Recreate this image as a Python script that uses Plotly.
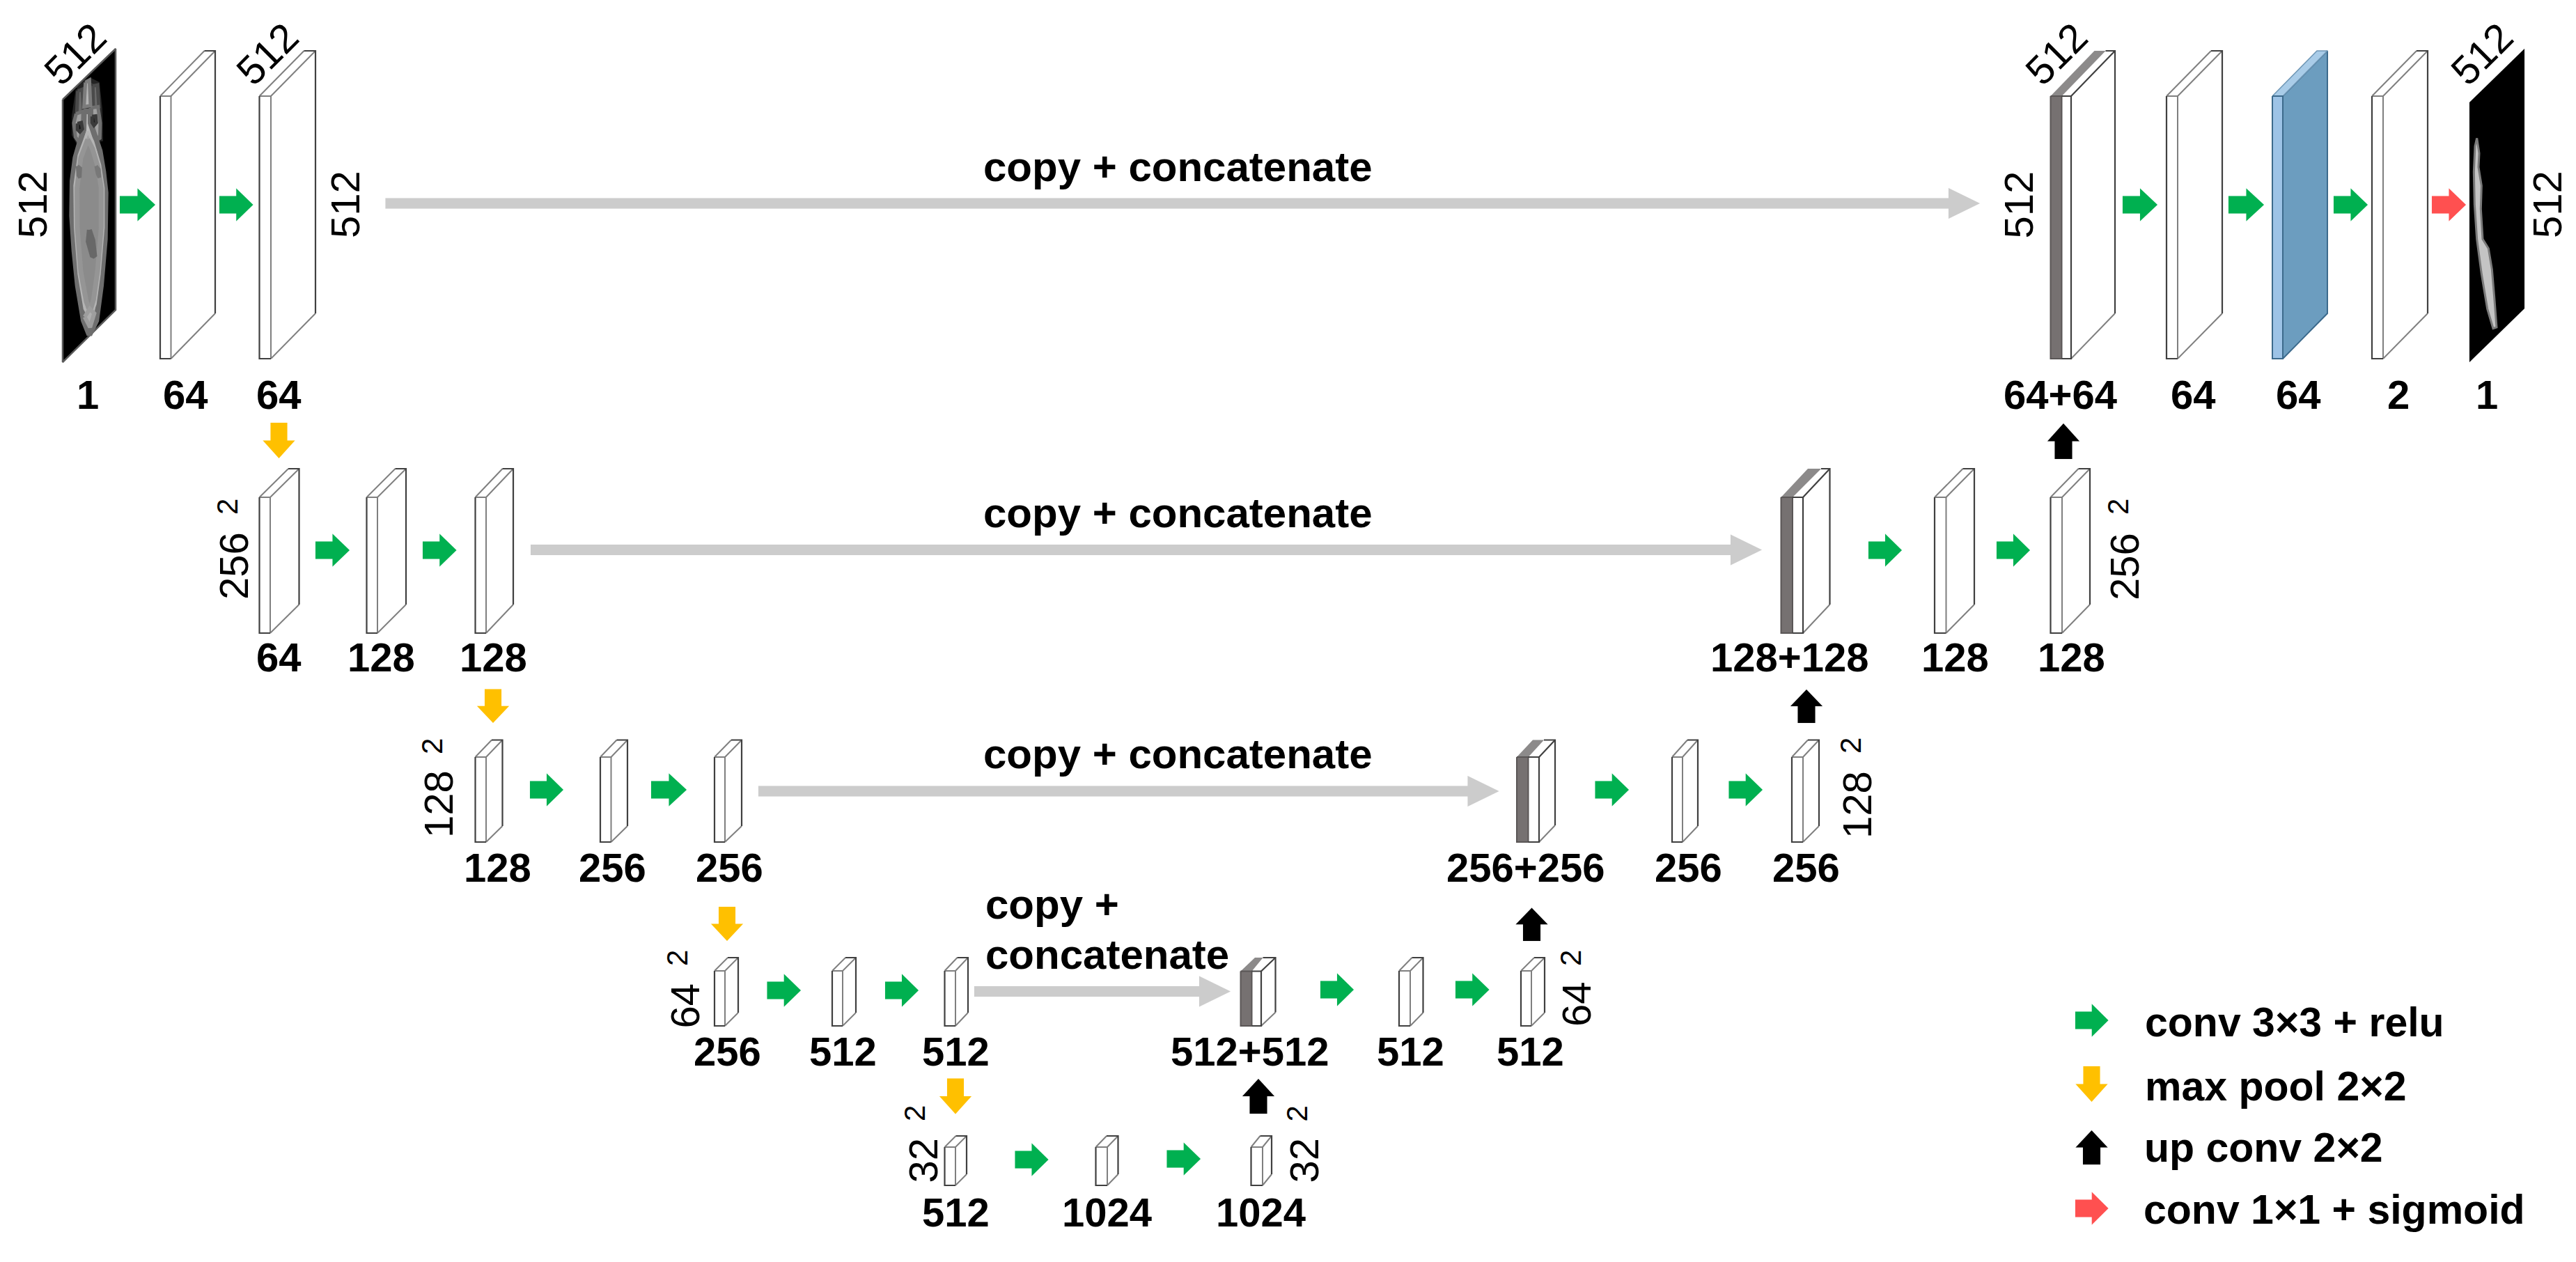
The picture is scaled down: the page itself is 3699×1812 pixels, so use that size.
import plotly.graph_objects as go

# ---------- chart content ----------
channel_labels = ["1", "64", "64", "64", "128", "128", "128", "256", "256", "256", "512", "512",
                  "512", "1024", "1024", "512+512", "512", "512", "256+256", "256", "256",
                  "128+128", "128", "128", "64+64", "64", "64", "2", "1"]
size_labels = ["512", "512", "256", "128", "64", "32", "32", "64", "128", "256", "512", "512"]
corner_labels = ["512", "512", "512", "512"]
skip_label = "copy + concatenate"
skip_label_wrapped = ["copy +", "concatenate"]
legend_labels = ["conv 3×3 + relu", "max pool 2×2", "up conv 2×2", "conv 1×1 + sigmoid"]
power_label = "2"

# ---------- layout of the diagram (canvas units) ----------
W, H = 3699, 1812
FONT = "Liberation Sans"
GREEN, ORANGE, RED, BLACK, ARROW_GREY = "#00B050", "#FFC000", "#FF5050", "#000000", "#CCCCCC"
CONCAT_GREY, CONCAT_TOP = "#767171", "#8C8A8A"
BLUE_FRONT, BLUE_SIDE, BLUE_TOP = "#9DC3E6", "#6C9DBF", "#A9CCE8"

channel_pos = [(126, 566), (266.5, 566), (400.5, 566), (400, 943), (547.5, 943), (708, 943),
               (714, 1245), (879, 1245), (1047.5, 1245), (1044, 1509), (1210, 1509), (1372, 1509),
               (1372, 1740), (1589, 1740), (1810, 1740), (1794.5, 1509), (2025, 1509), (2197, 1509),
               (2190, 1245), (2424.5, 1245), (2593, 1245), (2569, 943), (2807, 943), (2974, 943),
               (2958, 566), (3149, 566), (3300, 566), (3444, 566), (3571, 566)]
size_pos = [(46, 294), (495, 294), (335, 813), (629, 1155), (982.5, 1444), (1324.5, 1666),
            (1871.5, 1666), (2263, 1442), (2666, 1156), (3050, 814), (2897.5, 294), (3657, 294)]
power_pos = [(326, 728), (620, 1072), (972, 1376), (1313, 1599),
             (1862, 1599.5), (2255, 1376), (2657, 1071), (3041, 728)]
corner_pos = [(107, 77), (383, 77), (2952, 77), (3563, 77)]
skip_pos = [(1691, 239), (1691, 736), (1691, 1082)]
skip_wrapped_pos = [(1413, 1298), (1413, 1370)]
legend_pos = [(3078, 1468), (3078, 1560), (3077, 1648), (3076, 1737)]

# front-left, front-mid, back-right, top, bottom, back-top, back-bottom
plain_blocks = [
    (230, 245.5, 309, 138, 515, 73, 450), (372.5, 389, 453, 138, 515, 73, 450),
    (372.5, 388, 429.5, 714, 909, 673, 868), (526.5, 542, 583, 714, 909, 673, 868),
    (682.5, 698, 737, 714, 909, 673, 868),
    (682.5, 698, 721.5, 1087, 1209, 1062.5, 1186), (862, 877.5, 901, 1087, 1209, 1062.5, 1186),
    (1026, 1041, 1065, 1087, 1209, 1062.5, 1186),
    (1026, 1041, 1060, 1394, 1473, 1375, 1454), (1195, 1210, 1229, 1394, 1473, 1375, 1454),
    (1356.5, 1372, 1390, 1394, 1473, 1375, 1454),
    (1356.5, 1372, 1388, 1647, 1702, 1631, 1686), (1573.5, 1590, 1605.5, 1647, 1702, 1631, 1686),
    (1796.5, 1813, 1826, 1647, 1702, 1631, 1686),
    (2009, 2025, 2043.5, 1394, 1473, 1375, 1454), (2184, 2199, 2218, 1394, 1473, 1375, 1454),
    (2401, 2416, 2438, 1087, 1209, 1062.5, 1186), (2573, 2589, 2612, 1087, 1209, 1062.5, 1186),
    (2778, 2794.5, 2835, 714, 909, 673, 868), (2944.5, 2961, 3001, 714, 909, 673, 868),
    (3111, 3127, 3191, 138, 515, 73, 450), (3406, 3422, 3486, 138, 515, 73, 450),
]
blue_block = (3263, 3278, 3342, 138, 515, 73, 450)
# front-left, grey/white split, front-right, back-right, grey strip back end, top, bottom, back-top, back-bottom
concat_blocks = [
    (2944.5, 2960.5, 2974, 3037, 3023.5, 138, 515, 73, 450),
    (2557.5, 2574, 2589, 2627.5, 2615, 714, 909, 673, 868),
    (2178, 2194.5, 2210, 2233, 2217, 1087, 1209, 1062.5, 1185),
    (1781.5, 1797.5, 1811, 1831.5, 1813.5, 1394.5, 1473, 1375, 1453.5),
]
right_arrows_green = [
    (172, 223, 294), (315, 363.5, 294), (3048, 3098, 294), (3200, 3251, 294), (3351, 3400, 294),
    (453, 502, 790), (607, 655.5, 790), (2683, 2731, 790), (2867, 2915, 790),
    (761, 809, 1134), (935, 986, 1134), (2290.5, 2339, 1134), (2482.5, 2531, 1134),
    (1101.5, 1150, 1422), (1271, 1319, 1422), (1896, 1944, 1421), (2090, 2138.5, 1421),
    (1457.5, 1505.5, 1665), (1675.5, 1724, 1664), (2980, 3027.5, 1465),
]
right_arrows_red = [(3492, 3541, 294), (2980, 3027.5, 1735)]
down_arrows = [(400.5, 607, 658), (708, 989.5, 1038), (1044, 1302, 1351), (1372, 1548.5, 1599.5),
               (3003.5, 1531, 1582)]
up_arrows = [(2963, 608, 659), (2594, 990, 1038), (2199.5, 1303.5, 1351), (1807, 1549, 1599),
             (3003.5, 1623, 1672)]
grey_arrows = [(553.5, 2843, 292), (762, 2530, 789.5), (1089, 2152.5, 1136), (1399, 1767, 1423.5)]

input_slice = [(90, 143), (166, 70), (166, 445), (90, 520)]
output_slice = [(3546, 147), (3625, 70), (3625, 443), (3546, 520)]


def ct(points):
    """Hand-traced outline, from 3x crop coordinates of the input slice."""
    return [(80 + x / 3, 60 + y / 3) for x, y in points]


def mask(points):
    return [(3535 + x / 3, 60 + y / 3) for x, y in points]


body_rim = ct([(122, 300), (150, 300), (150, 350), (165, 400), (190, 470), (205, 560), (215, 650),
               (212, 850), (195, 1050), (175, 1200), (145, 1262), (120, 1200), (95, 1050), (80, 900),
               (70, 750), (72, 600), (85, 500), (105, 430), (120, 380)])
body_core = ct([(138, 385), (160, 430), (190, 530), (205, 630), (205, 800), (188, 1000), (170, 1130),
                (148, 1190), (125, 1150), (100, 1000), (84, 800), (82, 620), (100, 490), (118, 440)])
ct_layers = [
    # (fill, soft-edge colour, soft-edge width, outline)
    ("#3A3A3A", "#242424", 6, ct([(95, 205), (130, 170), (150, 165), (180, 180), (192, 290), (195, 420),
                                  (100, 440), (78, 400), (78, 320)])),
    ("#6A6A6A", "#4A4A4A", 5, ct([(95, 212), (114, 205), (120, 290), (112, 320), (90, 320)])),
    ("#6A6A6A", "#4A4A4A", 5, ct([(160, 190), (180, 186), (186, 280), (162, 285)])),
    ("#A0A0A0", "#707070", 5, ct([(88, 310), (118, 300), (128, 380), (105, 440), (85, 410), (78, 350)])),
    ("#A0A0A0", "#707070", 5, ct([(150, 285), (182, 280), (192, 350), (190, 420), (165, 400), (150, 350)])),
    ("#B4B4B4", "#7C7C7C", 5, ct([(128, 175), (145, 165), (150, 275), (122, 280)])),
    ("#BDBDBD", "#6E6E6E", 8, body_rim),
    ("#A2A2A2", "#B4B4B4", 4, body_core),
    ("#8B8B8B", "#959595", 7, ct([(138, 420), (158, 460), (182, 540), (196, 630), (196, 800), (180, 990), (163, 1110),
                                  (148, 1160), (132, 1120), (108, 990), (93, 800), (92, 630), (108, 500), (122, 455)])),
    ("#B0B0B0", "#9E9E9E", 6, ct([(125, 1185), (147, 1150), (166, 1170), (148, 1230)])),
    ("#5C5C5C", "#727272", 5, ct([(94, 535), (106, 545), (104, 585), (97, 575)])),
    ("#666666", "#787878", 5, ct([(174, 535), (186, 550), (188, 585), (180, 568)])),
    ("#454545", "#686868", 7, ct([(145, 810), (160, 855), (168, 925), (157, 920), (140, 860)])),
    ("#0A0A0A", "#3A3A3A", 5, ct([(94, 352), (110, 348), (115, 375), (104, 388), (94, 378)])),
    ("#0A0A0A", "#3A3A3A", 5, ct([(157, 322), (172, 320), (175, 348), (165, 360), (157, 348)])),
]
mask_outline = mask([(65, 415), (75, 480), (72, 540), (85, 620), (82, 720), (90, 850), (115, 890), (130, 980),
                     (140, 1100), (150, 1230), (135, 1235), (110, 1150), (85, 1000), (65, 850), (55, 700),
                     (52, 560), (57, 450)])

# ---------- helpers ----------
fig = go.Figure()


def closed(polys):
    xs, ys = [], []
    for poly in polys:
        xs += [p[0] for p in poly] + [poly[0][0], None]
        ys += [p[1] for p in poly] + [poly[0][1], None]
    return xs, ys


def filled(polys, color, line_color=None, line_width=0):
    xs, ys = closed(polys)
    fig.add_trace(go.Scatter(
        x=xs, y=ys, mode="lines", fill="toself", fillcolor=color,
        line=dict(color=line_color or color, width=line_width or 0.1, shape="linear"),
        hoverinfo="skip", showlegend=False))


def strokes(segments, color, width):
    xs, ys = [], []
    for seg in segments:
        xs += [p[0] for p in seg] + [None]
        ys += [p[1] for p in seg] + [None]
    fig.add_trace(go.Scatter(x=xs, y=ys, mode="lines", line=dict(color=color, width=width),
                             hoverinfo="skip", showlegend=False))


def right_arrow(a):
    x0, x1, cy = a
    mid = (x0 + x1) / 2
    return [(x0, cy - 12.5), (mid, cy - 12.5), (mid, cy - 23.5), (x1, cy), (mid, cy + 23.5), (mid, cy + 12.5), (x0, cy + 12.5)]


def down_arrow(a):
    cx, y0, y1 = a
    mid = (y0 + y1) / 2
    return [(cx - 12, y0), (cx + 12, y0), (cx + 12, mid), (cx + 23, mid), (cx, y1), (cx - 23, mid), (cx - 12, mid)]


def up_arrow(a):
    cx, y0, y1 = a
    mid = (y0 + y1) / 2
    return [(cx - 12.5, y1), (cx + 12.5, y1), (cx + 12.5, mid), (cx + 23, mid), (cx, y0), (cx - 23, mid), (cx - 12.5, mid)]


def grey_arrow(a):
    x0, x1, cy = a
    return [(x0, cy - 7.5), (x1 - 45, cy - 7.5), (x1 - 45, cy - 22), (x1, cy), (x1 - 45, cy + 22), (x1 - 45, cy + 7.5), (x0, cy + 7.5)]


# ---------- blocks ----------
fronts, sides, tops, dark, soft = [], [], [], [], []
for x0, x1, xr, t, b, bt, bb in plain_blocks:
    dx = xr - x1
    fronts.append([(x0, t), (x1, t), (x1, b), (x0, b)])
    sides.append([(x1, t), (xr, bt), (xr, bb), (x1, b)])
    tops.append([(x0, t), (x1, t), (xr, bt), (x0 + dx, bt)])
    dark.append([(x1, b), (x0, b), (x0, t)])
    dark.append([(x0 + dx, bt), (xr, bt), (xr, bb)])
    soft.append([(x0, t), (x1, t), (x1, b)])
    soft.append([(x0, t), (x0 + dx, bt)])
    soft.append([(x1, t), (xr, bt)])
    soft.append([(x1, b), (xr, bb)])

for x0, xg, x1, xr, xs, t, b, bt, bb in concat_blocks:
    dx = xr - x1
    fronts.append([(xg, t), (x1, t), (x1, b), (xg, b)])
    sides.append([(x1, t), (xr, bt), (xr, bb), (x1, b)])
    tops.append([(xg, t), (x1, t), (xr, bt), (xs, bt)])
    dark.append([(xg, t), (x1, t), (x1, b), (xg, b)])
    dark.append([(xs, bt), (xr, bt), (xr, bb)])
    dark.append([(x1, t), (xr, bt)])
    soft.append([(x1, b), (xr, bb)])

filled(sides, "#FFFFFF")
filled(tops, "#FFFFFF")
filled(fronts, "#FFFFFF")
filled([[(c[0], c[5]), (c[1], c[5]), (c[4], c[7]), (c[0] + c[3] - c[2], c[7])] for c in concat_blocks], CONCAT_TOP)
filled([[(c[0], c[5]), (c[1], c[5]), (c[1], c[6]), (c[0], c[6])] for c in concat_blocks], CONCAT_GREY, "#5A5656", 2)

x0, x1, xr, t, b, bt, bb = blue_block
filled([[(x1, t), (xr, bt), (xr, bb), (x1, b)]], BLUE_SIDE, "#3C6A8C", 2)
filled([[(x0, t), (x1, t), (xr, bt), (x0 + xr - x1, bt)]], BLUE_TOP, "#6F97B6", 1.5)
filled([[(x0, t), (x1, t), (x1, b), (x0, b)]], BLUE_FRONT, "#3C6A8C", 2)

strokes(soft, "#7F7F7F", 2)
strokes(dark, "#404040", 2.2)

# ---------- slices ----------
filled([input_slice], "#000000", "#5A5A5A", 2.5)
for color, edge, edge_width, outline in ct_layers:
    filled([outline], color, edge, edge_width)
filled([output_slice], "#000000")
filled([mask_outline], "#C4C4C4", "#7A7A7A", 3)

# ---------- arrows ----------
filled([grey_arrow(a) for a in grey_arrows], ARROW_GREY)
filled([right_arrow(a) for a in right_arrows_green], GREEN)
filled([right_arrow(a) for a in right_arrows_red], RED)
filled([down_arrow(a) for a in down_arrows], ORANGE)
filled([up_arrow(a) for a in up_arrows], BLACK)

# ---------- text ----------
BOLD = 58
REG = 58
ann = []


def note(text, x, y, size=BOLD, bold=True, angle=0, xanchor="center"):
    ann.append(dict(text=f"<b>{text}</b>" if bold else text, x=x, y=y, xref="x", yref="y", showarrow=False,
                    xanchor=xanchor, yanchor="middle", textangle=angle,
                    font=dict(family=FONT, size=size, color="#000000")))


for label, (x, y) in zip(channel_labels, channel_pos):
    note(label, x, y)
for label, (x, y) in zip(size_labels, size_pos):
    note(label, x, y, size=REG, bold=False, angle=-90)
for x, y in power_pos:
    note(power_label, x, y, size=42, bold=False, angle=-90)
for label, (x, y) in zip(corner_labels, corner_pos):
    note(label, x, y, size=REG, bold=False, angle=-45)
for x, y in skip_pos:
    note(skip_label, x, y, size=60)
for label, (x, y) in zip(skip_label_wrapped, skip_wrapped_pos):
    note(label, x, y, size=60, xanchor="left")
for label, (x, y) in zip(legend_labels, legend_pos):
    note(label, x, y, size=59, xanchor="left")

fig.update_layout(
    width=W, height=H, margin=dict(l=0, r=0, t=0, b=0), paper_bgcolor="#FFFFFF", plot_bgcolor="#FFFFFF",
    xaxis=dict(range=[0, W], visible=False, fixedrange=True),
    yaxis=dict(range=[H, 0], visible=False, fixedrange=True),
    annotations=ann, showlegend=False,
)
fig.write_html("out.html", config={"displayModeBar": False}, post_script="document.body.style.margin='0';")
